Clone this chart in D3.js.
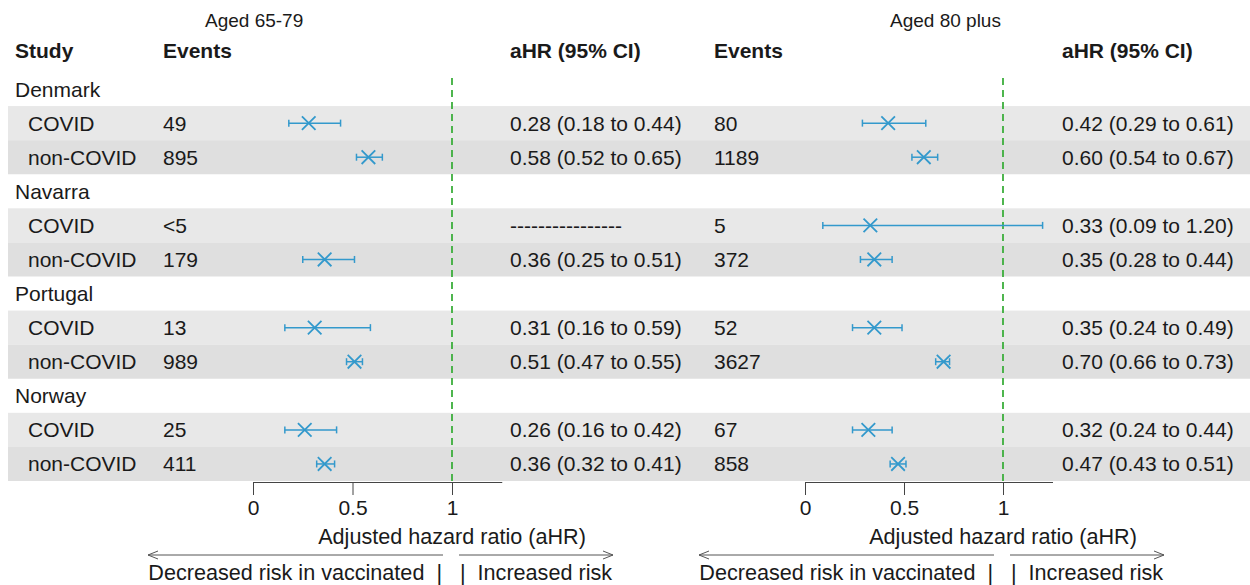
<!DOCTYPE html>
<html>
<head>
<meta charset="utf-8">
<script src="https://cdn.jsdelivr.net/npm/d3@7"></script>
<style>
	body { margin: 0; background: #fff; }
	svg text { font-family: "Liberation Sans", Arial, sans-serif; fill: #1a1a1a; white-space: pre; }
</style>
</head>
<body>
<div id="chart"></div>
<script>
const STUDIES = ['Denmark', 'Navarra', 'Portugal', 'Norway'];
const OUTCOMES = ['COVID', 'non-COVID'];
const AGE_GROUPS = ['Aged 65-79', 'Aged 80 plus'];
const TICKS = [0, 0.5, 1];

// rows in order: Denmark COVID, Denmark non-COVID, Navarra COVID, ...
const EVENTS_65 = ['49', '895', '<5', '179', '13', '989', '25', '411'];
const HR_65 = [0.28, 0.58, null, 0.36, 0.31, 0.51, 0.26, 0.36];
const LO_65 = [0.18, 0.52, null, 0.25, 0.16, 0.47, 0.16, 0.32];
const HI_65 = [0.44, 0.65, null, 0.51, 0.59, 0.55, 0.42, 0.41];

const EVENTS_80 = ['80', '1189', '5', '372', '52', '3627', '67', '858'];
const HR_80 = [0.42, 0.60, 0.33, 0.35, 0.35, 0.70, 0.32, 0.47];
const LO_80 = [0.29, 0.54, 0.09, 0.28, 0.24, 0.66, 0.24, 0.43];
const HI_80 = [0.61, 0.67, 1.20, 0.44, 0.49, 0.73, 0.44, 0.51];

const WIDTH = 1250;
const HEIGHT = 585;
const FONT = 21;
const FONT_AXIS = 21.6;
const MARK_COLOR = '#3399cc';
const REF_COLOR = '#3cae3c';
const BAND_COLORS = ['#e8e8e8', '#dfdfdf'];
const ROWS_TOP = 72;
const ROWS_BOTTOM = 481;
const AXIS_Y = 482;

const PANELS = [
	{ age: AGE_GROUPS[0], events: EVENTS_65, hr: HR_65, lo: LO_65, hi: HI_65,
		x0: 253, unit: 199, eventsX: 163, ahrX: 510, ageX: 205 },
	{ age: AGE_GROUPS[1], events: EVENTS_80, hr: HR_80, lo: LO_80, hi: HI_80,
		x0: 805, unit: 198, eventsX: 714, ahrX: 1062, ageX: 890 }
];

// flatten into table rows: study header, then its outcomes
const rows = [];
STUDIES.forEach((s, si) => {
	rows.push({ type: 'study', label: s });
	OUTCOMES.forEach((o, oi) => {
		rows.push({ type: 'outcome', label: o, oi: oi, idx: si * OUTCOMES.length + oi });
	});
});

const y = d3.scaleBand()
	.domain(rows.map((d, i) => i))
	.range([ROWS_TOP, ROWS_BOTTOM]);

const rowMid = i => y(i) + y.bandwidth() / 2;
const f2 = d3.format('.2f');

const svg = d3.select('#chart')
	.append('svg')
		.attr('width', WIDTH)
		.attr('height', HEIGHT);

svg.append('defs').append('marker')
	.attr('id', 'arrow')
	.attr('viewBox', '0 0 10 10')
	.attr('refX', 10)
	.attr('refY', 5)
	.attr('markerWidth', 10)
	.attr('markerHeight', 10)
	.attr('markerUnits', 'userSpaceOnUse')
	.attr('orient', 'auto-start-reverse')
	.append('path')
		.attr('d', 'M0,1 L10,5 L0,9')
		.attr('fill', 'none')
		.attr('stroke', '#555')
		.attr('stroke-width', 1);

// BANDS
const outcomeRows = rows.map((d, i) => Object.assign({ i: i }, d)).filter(d => d.type === 'outcome');

svg.selectAll('rect.band')
	.data(outcomeRows)
	.enter()
	.append('rect')
		.attr('class', 'band')
		.attr('x', 8)
		.attr('width', WIDTH - 8)
		.attr('y', d => y(d.i))
		.attr('height', y.bandwidth())
		.attr('fill', d => BAND_COLORS[d.oi]);

// STUDY COLUMN
svg.append('text')
	.attr('x', 15)
	.attr('y', 58)
	.attr('font-size', FONT)
	.attr('font-weight', 'bold')
	.text('Study');

svg.selectAll('text.rowlab')
	.data(rows)
	.enter()
	.append('text')
		.attr('class', 'rowlab')
		.attr('x', d => d.type === 'study' ? 15 : 28)
		.attr('y', (d, i) => rowMid(i) + 7.5)
		.attr('font-size', FONT)
		.text(d => d.label);

PANELS.forEach(p => {
	const x = d3.scaleLinear()
		.domain([0, 1.25])
		.range([p.x0, p.x0 + 1.25 * p.unit]);

	const g = svg.append('g');

	g.append('text')
		.attr('x', p.ageX)
		.attr('y', 27)
		.attr('font-size', 19)
		.text(p.age);

	g.append('text')
		.attr('x', p.eventsX)
		.attr('y', 58)
		.attr('font-size', FONT)
		.attr('font-weight', 'bold')
		.text('Events');

	g.append('text')
		.attr('x', p.ahrX)
		.attr('y', 58)
		.attr('font-size', FONT)
		.attr('font-weight', 'bold')
		.text('aHR (95% CI)');

	// reference line at 1
	g.append('line')
		.attr('x1', x(1)).attr('x2', x(1))
		.attr('y1', 78).attr('y2', AXIS_Y)
		.attr('stroke', REF_COLOR)
		.attr('stroke-width', 1.8)
		.attr('stroke-dasharray', '7,5');

	const pts = outcomeRows.map(d => ({
		i: d.i,
		events: p.events[d.idx],
		hr: p.hr[d.idx],
		lo: p.lo[d.idx],
		hi: p.hi[d.idx]
	}));

	g.selectAll('text.events')
		.data(pts)
		.enter()
		.append('text')
			.attr('class', 'events')
			.attr('x', p.eventsX)
			.attr('y', d => rowMid(d.i) + 7.5)
			.attr('font-size', FONT)
			.text(d => d.events);

	g.selectAll('text.ahr')
		.data(pts)
		.enter()
		.append('text')
			.attr('class', 'ahr')
			.attr('x', p.ahrX)
			.attr('y', d => rowMid(d.i) + 7.5)
			.attr('font-size', FONT)
			.text(d => d.hr == null ? '----------------'
				: `${f2(d.hr)} (${f2(d.lo)} to ${f2(d.hi)})`);

	const est = pts.filter(d => d.hr != null);

	const ci = g.selectAll('g.ci')
		.data(est)
		.enter()
		.append('g')
			.attr('class', 'ci')
			.attr('stroke', MARK_COLOR)
			.attr('fill', 'none');

	ci.append('line')
		.attr('x1', d => x(d.lo)).attr('x2', d => x(d.hi))
		.attr('y1', d => rowMid(d.i)).attr('y2', d => rowMid(d.i))
		.attr('stroke-width', 1.5);

	ci.append('line')
		.attr('x1', d => x(d.lo)).attr('x2', d => x(d.lo))
		.attr('y1', d => rowMid(d.i) - 3.5).attr('y2', d => rowMid(d.i) + 3.5)
		.attr('stroke-width', 1.5);

	ci.append('line')
		.attr('x1', d => x(d.hi)).attr('x2', d => x(d.hi))
		.attr('y1', d => rowMid(d.i) - 3.5).attr('y2', d => rowMid(d.i) + 3.5)
		.attr('stroke-width', 1.5);

	ci.append('path')
		.attr('d', d => {
			const cx = x(d.hr), cy = rowMid(d.i), r = 6.8;
			return `M${cx - r},${cy - r}L${cx + r},${cy + r}M${cx - r},${cy + r}L${cx + r},${cy - r}`;
		})
		.attr('stroke-width', 1.8);

	// AXIS
	const axis = g.append('g')
		.attr('transform', `translate(0, ${AXIS_Y})`)
		.call(d3.axisBottom(x)
			.tickValues(TICKS)
			.tickFormat(d3.format('~g'))
			.tickSize(13)
			.tickSizeOuter(0)
			.tickPadding(5));

	axis.select('.domain').attr('stroke', '#444');
	axis.selectAll('.tick line').attr('stroke', '#444');
	axis.selectAll('.tick text')
		.attr('font-size', FONT)
		.attr('font-family', '"Liberation Sans", Arial, sans-serif')
		.attr('fill', '#1a1a1a');

	g.append('text')
		.attr('x', x(1))
		.attr('y', 544)
		.attr('text-anchor', 'middle')
		.attr('font-size', FONT_AXIS)
		.text('Adjusted hazard ratio (aHR)');

	// direction arrows
	g.append('line')
		.attr('x1', x(1) - 9).attr('x2', x(1) - 304)
		.attr('y1', 555).attr('y2', 555)
		.attr('stroke', '#555')
		.attr('marker-end', 'url(#arrow)');

	g.append('line')
		.attr('x1', x(1) + 7).attr('x2', x(1) + 161)
		.attr('y1', 555).attr('y2', 555)
		.attr('stroke', '#555')
		.attr('marker-end', 'url(#arrow)');

	g.append('text')
		.attr('x', x(1) - 10)
		.attr('y', 580)
		.attr('text-anchor', 'end')
		.attr('font-size', FONT_AXIS)
		.text('Decreased risk in vaccinated  |');

	g.append('text')
		.attr('x', x(1) + 8)
		.attr('y', 580)
		.attr('font-size', FONT_AXIS)
		.text('|  Increased risk');
});
</script>
</body>
</html>
